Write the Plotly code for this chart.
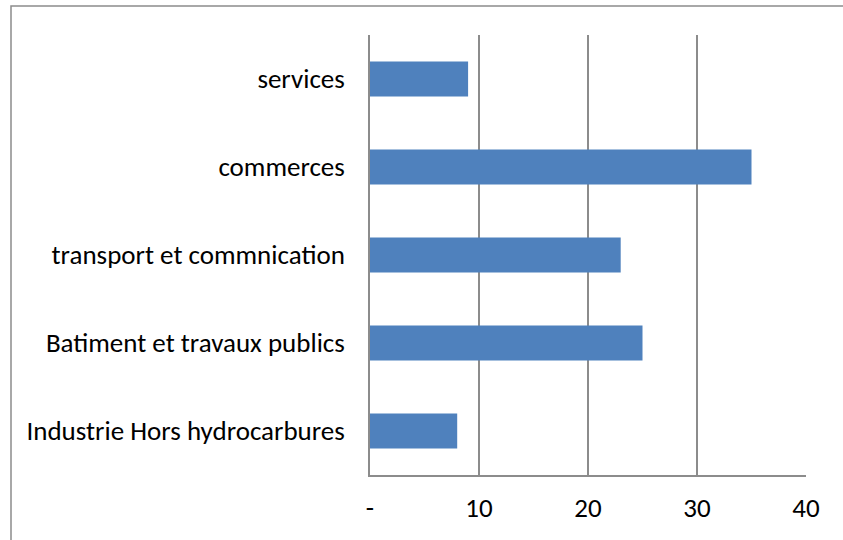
import plotly.graph_objects as go

categories = [
    "Industrie Hors hydrocarbures",
    "Batiment et travaux publics",
    "transport et commnication",
    "commerces",
    "services",
]
values = [8, 25, 23, 35, 9]
tick_vals = [0, 10, 20, 30, 40]
tick_text = ["-", "10", "20", "30", "40"]

W, H = 843, 540
L, R, T, B = 370, 37, 35, 65
pw, ph = W - L - R, H - T - B

FONT = "Calibri, Carlito, Lato, sans-serif"
GRID = "#8c8c8c"
FS = 27

fig = go.Figure(
    go.Bar(
        x=values,
        y=categories,
        orientation="h",
        marker=dict(color="#4F81BD", line=dict(width=0)),
    )
)

def px_x(p):
    return (p - L) / pw

def px_y(p):
    return (H - B - p) / ph

fig.update_layout(
    width=W,
    height=H,
    margin=dict(l=L, r=R, t=T, b=B),
    paper_bgcolor="white",
    plot_bgcolor="white",
    bargap=0.6,
    showlegend=False,
    font=dict(family=FONT, size=FS, color="#000000"),
    xaxis=dict(
        range=[0, 40],
        tickvals=tick_vals,
        ticktext=tick_text,
        showgrid=True,
        gridcolor=GRID,
        gridwidth=1.5,
        zeroline=False,
        showline=True,
        linecolor=GRID,
        linewidth=1.5,
        ticks="",
        ticklabelstandoff=8,
        tickfont=dict(family=FONT, size=FS),
        fixedrange=True,
    ),
    yaxis=dict(
        showgrid=False,
        zeroline=False,
        showline=True,
        linecolor=GRID,
        linewidth=1.5,
        ticks="",
        ticklabelstandoff=18,
        tickfont=dict(family=FONT, size=FS),
        fixedrange=True,
    ),
    shapes=[
        dict(
            type="rect",
            xref="paper",
            yref="paper",
            x0=px_x(11),
            x1=px_x(855),
            y0=px_y(6),
            y1=px_y(560),
            line=dict(color=GRID, width=1.5),
            fillcolor="rgba(0,0,0,0)",
            layer="below",
        )
    ],
)

fig.write_html(
    "out.html",
    config={"displayModeBar": False},
    post_script="document.body.style.margin='0';document.body.style.overflow='hidden';",
)
